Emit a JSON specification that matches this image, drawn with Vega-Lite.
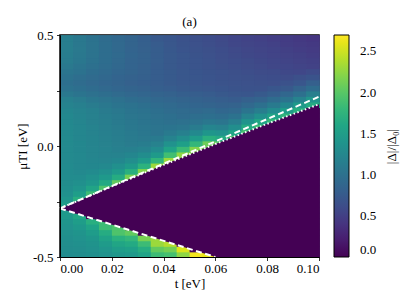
{
"$schema":"https://vega.github.io/schema/vega-lite/v6.json",
"width":259,"height":222,
"autosize":"none",
"padding":{"left":60,"top":35,"right":96,"bottom":50},
"background":"white",
"title":{"text":"(a)","fontSize":13,"fontWeight":"normal","font":"Liberation Serif","color":"black","offset":-13,"baseline":"bottom","frame":"group"},
"datasets":{
"grid":[
{"t":0.0025,"m":-0.4875,"v":1.3},{"t":0.0025,"m":-0.4625,"v":1.31},{"t":0.0025,"m":-0.4375,"v":1.32},{"t":0.0025,"m":-0.4125,"v":1.33},{"t":0.0025,"m":-0.3875,"v":1.35},{"t":0.0025,"m":-0.3625,"v":1.37},{"t":0.0025,"m":-0.3375,"v":1.4},{"t":0.0025,"m":-0.3125,"v":1.45},{"t":0.0025,"m":-0.2875,"v":1.45},{"t":0.0025,"m":-0.2625,"v":1.5},{"t":0.0025,"m":-0.2375,"v":1.41},{"t":0.0025,"m":-0.2125,"v":1.35},{"t":0.0025,"m":-0.1875,"v":1.33},{"t":0.0025,"m":-0.1625,"v":1.31},{"t":0.0025,"m":-0.1375,"v":1.3},{"t":0.0025,"m":-0.1125,"v":1.29},{"t":0.0025,"m":-0.0875,"v":1.29},{"t":0.0025,"m":-0.0625,"v":1.28},{"t":0.0025,"m":-0.0375,"v":1.28},{"t":0.0025,"m":-0.0125,"v":1.28},{"t":0.0025,"m":0.0125,"v":1.28},{"t":0.0025,"m":0.0375,"v":1.28},{"t":0.0025,"m":0.0625,"v":1.27},{"t":0.0025,"m":0.0875,"v":1.27},{"t":0.0025,"m":0.1125,"v":1.26},{"t":0.0025,"m":0.1375,"v":1.26},{"t":0.0025,"m":0.1625,"v":1.24},{"t":0.0025,"m":0.1875,"v":1.2},{"t":0.0025,"m":0.2125,"v":1.16},{"t":0.0025,"m":0.2375,"v":1.08},{"t":0.0025,"m":0.2625,"v":1.01},{"t":0.0025,"m":0.2875,"v":0.98},{"t":0.0025,"m":0.3125,"v":1.01},{"t":0.0025,"m":0.3375,"v":1.05},{"t":0.0025,"m":0.3625,"v":1.09},{"t":0.0025,"m":0.3875,"v":1.12},{"t":0.0025,"m":0.4125,"v":1.13},{"t":0.0025,"m":0.4375,"v":1.14},{"t":0.0025,"m":0.4625,"v":1.14},{"t":0.0025,"m":0.4875,"v":1.14},
{"t":0.0075,"m":-0.4875,"v":1.31},{"t":0.0075,"m":-0.4625,"v":1.32},{"t":0.0075,"m":-0.4375,"v":1.34},{"t":0.0075,"m":-0.4125,"v":1.36},{"t":0.0075,"m":-0.3875,"v":1.39},{"t":0.0075,"m":-0.3625,"v":1.44},{"t":0.0075,"m":-0.3375,"v":1.5},{"t":0.0075,"m":-0.3125,"v":1.6},{"t":0.0075,"m":-0.2875,"v":0.08},{"t":0.0075,"m":-0.2625,"v":0.08},{"t":0.0075,"m":-0.2375,"v":1.7},{"t":0.0075,"m":-0.2125,"v":1.51},{"t":0.0075,"m":-0.1875,"v":1.4},{"t":0.0075,"m":-0.1625,"v":1.34},{"t":0.0075,"m":-0.1375,"v":1.3},{"t":0.0075,"m":-0.1125,"v":1.27},{"t":0.0075,"m":-0.0875,"v":1.26},{"t":0.0075,"m":-0.0625,"v":1.26},{"t":0.0075,"m":-0.0375,"v":1.26},{"t":0.0075,"m":-0.0125,"v":1.25},{"t":0.0075,"m":0.0125,"v":1.25},{"t":0.0075,"m":0.0375,"v":1.24},{"t":0.0075,"m":0.0625,"v":1.23},{"t":0.0075,"m":0.0875,"v":1.23},{"t":0.0075,"m":0.1125,"v":1.22},{"t":0.0075,"m":0.1375,"v":1.21},{"t":0.0075,"m":0.1625,"v":1.2},{"t":0.0075,"m":0.1875,"v":1.16},{"t":0.0075,"m":0.2125,"v":1.12},{"t":0.0075,"m":0.2375,"v":1.04},{"t":0.0075,"m":0.2625,"v":0.98},{"t":0.0075,"m":0.2875,"v":0.95},{"t":0.0075,"m":0.3125,"v":0.97},{"t":0.0075,"m":0.3375,"v":1.01},{"t":0.0075,"m":0.3625,"v":1.04},{"t":0.0075,"m":0.3875,"v":1.07},{"t":0.0075,"m":0.4125,"v":1.08},{"t":0.0075,"m":0.4375,"v":1.09},{"t":0.0075,"m":0.4625,"v":1.08},{"t":0.0075,"m":0.4875,"v":1.08},
{"t":0.0125,"m":-0.4875,"v":1.33},{"t":0.0125,"m":-0.4625,"v":1.35},{"t":0.0125,"m":-0.4375,"v":1.38},{"t":0.0125,"m":-0.4125,"v":1.42},{"t":0.0125,"m":-0.3875,"v":1.48},{"t":0.0125,"m":-0.3625,"v":1.56},{"t":0.0125,"m":-0.3375,"v":1.7},{"t":0.0125,"m":-0.3125,"v":0.05},{"t":0.0125,"m":-0.2875,"v":0.05},{"t":0.0125,"m":-0.2625,"v":0.05},{"t":0.0125,"m":-0.2375,"v":0.05},{"t":0.0125,"m":-0.2125,"v":1.85},{"t":0.0125,"m":-0.1875,"v":1.58},{"t":0.0125,"m":-0.1625,"v":1.43},{"t":0.0125,"m":-0.1375,"v":1.35},{"t":0.0125,"m":-0.1125,"v":1.29},{"t":0.0125,"m":-0.0875,"v":1.25},{"t":0.0125,"m":-0.0625,"v":1.23},{"t":0.0125,"m":-0.0375,"v":1.22},{"t":0.0125,"m":-0.0125,"v":1.22},{"t":0.0125,"m":0.0125,"v":1.21},{"t":0.0125,"m":0.0375,"v":1.21},{"t":0.0125,"m":0.0625,"v":1.19},{"t":0.0125,"m":0.0875,"v":1.19},{"t":0.0125,"m":0.1125,"v":1.17},{"t":0.0125,"m":0.1375,"v":1.17},{"t":0.0125,"m":0.1625,"v":1.16},{"t":0.0125,"m":0.1875,"v":1.12},{"t":0.0125,"m":0.2125,"v":1.07},{"t":0.0125,"m":0.2375,"v":1.0},{"t":0.0125,"m":0.2625,"v":0.94},{"t":0.0125,"m":0.2875,"v":0.91},{"t":0.0125,"m":0.3125,"v":0.93},{"t":0.0125,"m":0.3375,"v":0.96},{"t":0.0125,"m":0.3625,"v":0.99},{"t":0.0125,"m":0.3875,"v":1.01},{"t":0.0125,"m":0.4125,"v":1.02},{"t":0.0125,"m":0.4375,"v":1.02},{"t":0.0125,"m":0.4625,"v":1.02},{"t":0.0125,"m":0.4875,"v":1.01},
{"t":0.0175,"m":-0.4875,"v":1.37},{"t":0.0175,"m":-0.4625,"v":1.41},{"t":0.0175,"m":-0.4375,"v":1.47},{"t":0.0175,"m":-0.4125,"v":1.55},{"t":0.0175,"m":-0.3875,"v":1.66},{"t":0.0175,"m":-0.3625,"v":1.85},{"t":0.0175,"m":-0.3375,"v":1.85},{"t":0.0175,"m":-0.3125,"v":0.03},{"t":0.0175,"m":-0.2875,"v":0.03},{"t":0.0175,"m":-0.2625,"v":0.03},{"t":0.0175,"m":-0.2375,"v":0.03},{"t":0.0175,"m":-0.2125,"v":0.03},{"t":0.0175,"m":-0.1875,"v":1.95},{"t":0.0175,"m":-0.1625,"v":1.63},{"t":0.0175,"m":-0.1375,"v":1.45},{"t":0.0175,"m":-0.1125,"v":1.34},{"t":0.0175,"m":-0.0875,"v":1.27},{"t":0.0175,"m":-0.0625,"v":1.22},{"t":0.0175,"m":-0.0375,"v":1.2},{"t":0.0175,"m":-0.0125,"v":1.19},{"t":0.0175,"m":0.0125,"v":1.18},{"t":0.0175,"m":0.0375,"v":1.17},{"t":0.0175,"m":0.0625,"v":1.16},{"t":0.0175,"m":0.0875,"v":1.15},{"t":0.0175,"m":0.1125,"v":1.14},{"t":0.0175,"m":0.1375,"v":1.13},{"t":0.0175,"m":0.1625,"v":1.11},{"t":0.0175,"m":0.1875,"v":1.08},{"t":0.0175,"m":0.2125,"v":1.03},{"t":0.0175,"m":0.2375,"v":0.97},{"t":0.0175,"m":0.2625,"v":0.91},{"t":0.0175,"m":0.2875,"v":0.88},{"t":0.0175,"m":0.3125,"v":0.9},{"t":0.0175,"m":0.3375,"v":0.92},{"t":0.0175,"m":0.3625,"v":0.94},{"t":0.0175,"m":0.3875,"v":0.96},{"t":0.0175,"m":0.4125,"v":0.96},{"t":0.0175,"m":0.4375,"v":0.96},{"t":0.0175,"m":0.4625,"v":0.96},{"t":0.0175,"m":0.4875,"v":0.95},
{"t":0.0225,"m":-0.4875,"v":1.43},{"t":0.0225,"m":-0.4625,"v":1.5},{"t":0.0225,"m":-0.4375,"v":1.59},{"t":0.0225,"m":-0.4125,"v":1.72},{"t":0.0225,"m":-0.3875,"v":1.95},{"t":0.0225,"m":-0.3625,"v":1.95},{"t":0.0225,"m":-0.3375,"v":0.03},{"t":0.0225,"m":-0.3125,"v":0.03},{"t":0.0225,"m":-0.2875,"v":0.03},{"t":0.0225,"m":-0.2625,"v":0.03},{"t":0.0225,"m":-0.2375,"v":0.03},{"t":0.0225,"m":-0.2125,"v":0.03},{"t":0.0225,"m":-0.1875,"v":0.03},{"t":0.0225,"m":-0.1625,"v":2.05},{"t":0.0225,"m":-0.1375,"v":1.67},{"t":0.0225,"m":-0.1125,"v":1.46},{"t":0.0225,"m":-0.0875,"v":1.34},{"t":0.0225,"m":-0.0625,"v":1.25},{"t":0.0225,"m":-0.0375,"v":1.2},{"t":0.0225,"m":-0.0125,"v":1.16},{"t":0.0225,"m":0.0125,"v":1.15},{"t":0.0225,"m":0.0375,"v":1.14},{"t":0.0225,"m":0.0625,"v":1.13},{"t":0.0225,"m":0.0875,"v":1.12},{"t":0.0225,"m":0.1125,"v":1.1},{"t":0.0225,"m":0.1375,"v":1.1},{"t":0.0225,"m":0.1625,"v":1.08},{"t":0.0225,"m":0.1875,"v":1.04},{"t":0.0225,"m":0.2125,"v":1.0},{"t":0.0225,"m":0.2375,"v":0.93},{"t":0.0225,"m":0.2625,"v":0.88},{"t":0.0225,"m":0.2875,"v":0.85},{"t":0.0225,"m":0.3125,"v":0.86},{"t":0.0225,"m":0.3375,"v":0.88},{"t":0.0225,"m":0.3625,"v":0.9},{"t":0.0225,"m":0.3875,"v":0.91},{"t":0.0225,"m":0.4125,"v":0.92},{"t":0.0225,"m":0.4375,"v":0.91},{"t":0.0225,"m":0.4625,"v":0.91},{"t":0.0225,"m":0.4875,"v":0.9},
{"t":0.0275,"m":-0.4875,"v":1.45},{"t":0.0275,"m":-0.4625,"v":1.53},{"t":0.0275,"m":-0.4375,"v":1.64},{"t":0.0275,"m":-0.4125,"v":1.79},{"t":0.0275,"m":-0.3875,"v":2.05},{"t":0.0275,"m":-0.3625,"v":0.03},{"t":0.0275,"m":-0.3375,"v":0.03},{"t":0.0275,"m":-0.3125,"v":0.03},{"t":0.0275,"m":-0.2875,"v":0.03},{"t":0.0275,"m":-0.2625,"v":0.03},{"t":0.0275,"m":-0.2375,"v":0.03},{"t":0.0275,"m":-0.2125,"v":0.03},{"t":0.0275,"m":-0.1875,"v":0.03},{"t":0.0275,"m":-0.1625,"v":2.15},{"t":0.0275,"m":-0.1375,"v":2.15},{"t":0.0275,"m":-0.1125,"v":1.71},{"t":0.0275,"m":-0.0875,"v":1.46},{"t":0.0275,"m":-0.0625,"v":1.32},{"t":0.0275,"m":-0.0375,"v":1.23},{"t":0.0275,"m":-0.0125,"v":1.16},{"t":0.0275,"m":0.0125,"v":1.12},{"t":0.0275,"m":0.0375,"v":1.11},{"t":0.0275,"m":0.0625,"v":1.1},{"t":0.0275,"m":0.0875,"v":1.08},{"t":0.0275,"m":0.1125,"v":1.07},{"t":0.0275,"m":0.1375,"v":1.06},{"t":0.0275,"m":0.1625,"v":1.04},{"t":0.0275,"m":0.1875,"v":1.01},{"t":0.0275,"m":0.2125,"v":0.96},{"t":0.0275,"m":0.2375,"v":0.9},{"t":0.0275,"m":0.2625,"v":0.85},{"t":0.0275,"m":0.2875,"v":0.82},{"t":0.0275,"m":0.3125,"v":0.83},{"t":0.0275,"m":0.3375,"v":0.85},{"t":0.0275,"m":0.3625,"v":0.86},{"t":0.0275,"m":0.3875,"v":0.86},{"t":0.0275,"m":0.4125,"v":0.87},{"t":0.0275,"m":0.4375,"v":0.86},{"t":0.0275,"m":0.4625,"v":0.85},{"t":0.0275,"m":0.4875,"v":0.85},
{"t":0.0325,"m":-0.4875,"v":1.56},{"t":0.0325,"m":-0.4625,"v":1.68},{"t":0.0325,"m":-0.4375,"v":1.85},{"t":0.0325,"m":-0.4125,"v":2.15},{"t":0.0325,"m":-0.3875,"v":0.03},{"t":0.0325,"m":-0.3625,"v":0.03},{"t":0.0325,"m":-0.3375,"v":0.03},{"t":0.0325,"m":-0.3125,"v":0.03},{"t":0.0325,"m":-0.2875,"v":0.03},{"t":0.0325,"m":-0.2625,"v":0.03},{"t":0.0325,"m":-0.2375,"v":0.03},{"t":0.0325,"m":-0.2125,"v":0.03},{"t":0.0325,"m":-0.1875,"v":0.03},{"t":0.0325,"m":-0.1625,"v":0.03},{"t":0.0325,"m":-0.1375,"v":2.2},{"t":0.0325,"m":-0.1125,"v":2.2},{"t":0.0325,"m":-0.0875,"v":1.73},{"t":0.0325,"m":-0.0625,"v":1.46},{"t":0.0325,"m":-0.0375,"v":1.31},{"t":0.0325,"m":-0.0125,"v":1.2},{"t":0.0325,"m":0.0125,"v":1.13},{"t":0.0325,"m":0.0375,"v":1.09},{"t":0.0325,"m":0.0625,"v":1.07},{"t":0.0325,"m":0.0875,"v":1.06},{"t":0.0325,"m":0.1125,"v":1.04},{"t":0.0325,"m":0.1375,"v":1.03},{"t":0.0325,"m":0.1625,"v":1.01},{"t":0.0325,"m":0.1875,"v":0.98},{"t":0.0325,"m":0.2125,"v":0.93},{"t":0.0325,"m":0.2375,"v":0.88},{"t":0.0325,"m":0.2625,"v":0.83},{"t":0.0325,"m":0.2875,"v":0.8},{"t":0.0325,"m":0.3125,"v":0.81},{"t":0.0325,"m":0.3375,"v":0.82},{"t":0.0325,"m":0.3625,"v":0.82},{"t":0.0325,"m":0.3875,"v":0.83},{"t":0.0325,"m":0.4125,"v":0.83},{"t":0.0325,"m":0.4375,"v":0.82},{"t":0.0325,"m":0.4625,"v":0.81},{"t":0.0325,"m":0.4875,"v":0.8},
{"t":0.0375,"m":-0.4875,"v":1.85},{"t":0.0375,"m":-0.4625,"v":2.05},{"t":0.0375,"m":-0.4375,"v":2.3},{"t":0.0375,"m":-0.4125,"v":2.3},{"t":0.0375,"m":-0.3875,"v":0.03},{"t":0.0375,"m":-0.3625,"v":0.03},{"t":0.0375,"m":-0.3375,"v":0.03},{"t":0.0375,"m":-0.3125,"v":0.03},{"t":0.0375,"m":-0.2875,"v":0.03},{"t":0.0375,"m":-0.2625,"v":0.03},{"t":0.0375,"m":-0.2375,"v":0.03},{"t":0.0375,"m":-0.2125,"v":0.03},{"t":0.0375,"m":-0.1875,"v":0.03},{"t":0.0375,"m":-0.1625,"v":0.03},{"t":0.0375,"m":-0.1375,"v":0.03},{"t":0.0375,"m":-0.1125,"v":2.3},{"t":0.0375,"m":-0.0875,"v":2.3},{"t":0.0375,"m":-0.0625,"v":1.77},{"t":0.0375,"m":-0.0375,"v":1.46},{"t":0.0375,"m":-0.0125,"v":1.3},{"t":0.0375,"m":0.0125,"v":1.18},{"t":0.0375,"m":0.0375,"v":1.1},{"t":0.0375,"m":0.0625,"v":1.04},{"t":0.0375,"m":0.0875,"v":1.03},{"t":0.0375,"m":0.1125,"v":1.01},{"t":0.0375,"m":0.1375,"v":1.0},{"t":0.0375,"m":0.1625,"v":0.98},{"t":0.0375,"m":0.1875,"v":0.94},{"t":0.0375,"m":0.2125,"v":0.9},{"t":0.0375,"m":0.2375,"v":0.85},{"t":0.0375,"m":0.2625,"v":0.8},{"t":0.0375,"m":0.2875,"v":0.78},{"t":0.0375,"m":0.3125,"v":0.78},{"t":0.0375,"m":0.3375,"v":0.78},{"t":0.0375,"m":0.3625,"v":0.78},{"t":0.0375,"m":0.3875,"v":0.79},{"t":0.0375,"m":0.4125,"v":0.78},{"t":0.0375,"m":0.4375,"v":0.78},{"t":0.0375,"m":0.4625,"v":0.77},{"t":0.0375,"m":0.4875,"v":0.75},
{"t":0.0425,"m":-0.4875,"v":1.9},{"t":0.0425,"m":-0.4625,"v":2.13},{"t":0.0425,"m":-0.4375,"v":2.4},{"t":0.0425,"m":-0.4125,"v":0.03},{"t":0.0425,"m":-0.3875,"v":0.03},{"t":0.0425,"m":-0.3625,"v":0.03},{"t":0.0425,"m":-0.3375,"v":0.03},{"t":0.0425,"m":-0.3125,"v":0.03},{"t":0.0425,"m":-0.2875,"v":0.03},{"t":0.0425,"m":-0.2625,"v":0.03},{"t":0.0425,"m":-0.2375,"v":0.03},{"t":0.0425,"m":-0.2125,"v":0.03},{"t":0.0425,"m":-0.1875,"v":0.03},{"t":0.0425,"m":-0.1625,"v":0.03},{"t":0.0425,"m":-0.1375,"v":0.03},{"t":0.0425,"m":-0.1125,"v":0.03},{"t":0.0425,"m":-0.0875,"v":2.3},{"t":0.0425,"m":-0.0625,"v":2.3},{"t":0.0425,"m":-0.0375,"v":1.88},{"t":0.0425,"m":-0.0125,"v":1.56},{"t":0.0425,"m":0.0125,"v":1.36},{"t":0.0425,"m":0.0375,"v":1.2},{"t":0.0425,"m":0.0625,"v":1.1},{"t":0.0425,"m":0.0875,"v":1.04},{"t":0.0425,"m":0.1125,"v":0.99},{"t":0.0425,"m":0.1375,"v":0.98},{"t":0.0425,"m":0.1625,"v":0.95},{"t":0.0425,"m":0.1875,"v":0.92},{"t":0.0425,"m":0.2125,"v":0.88},{"t":0.0425,"m":0.2375,"v":0.83},{"t":0.0425,"m":0.2625,"v":0.78},{"t":0.0425,"m":0.2875,"v":0.76},{"t":0.0425,"m":0.3125,"v":0.76},{"t":0.0425,"m":0.3375,"v":0.76},{"t":0.0425,"m":0.3625,"v":0.75},{"t":0.0425,"m":0.3875,"v":0.75},{"t":0.0425,"m":0.4125,"v":0.75},{"t":0.0425,"m":0.4375,"v":0.74},{"t":0.0425,"m":0.4625,"v":0.73},{"t":0.0425,"m":0.4875,"v":0.72},
{"t":0.0475,"m":-0.4875,"v":2.24},{"t":0.0475,"m":-0.4625,"v":2.55},{"t":0.0475,"m":-0.4375,"v":0.03},{"t":0.0475,"m":-0.4125,"v":0.03},{"t":0.0475,"m":-0.3875,"v":0.03},{"t":0.0475,"m":-0.3625,"v":0.03},{"t":0.0475,"m":-0.3375,"v":0.03},{"t":0.0475,"m":-0.3125,"v":0.03},{"t":0.0475,"m":-0.2875,"v":0.03},{"t":0.0475,"m":-0.2625,"v":0.03},{"t":0.0475,"m":-0.2375,"v":0.03},{"t":0.0475,"m":-0.2125,"v":0.03},{"t":0.0475,"m":-0.1875,"v":0.03},{"t":0.0475,"m":-0.1625,"v":0.03},{"t":0.0475,"m":-0.1375,"v":0.03},{"t":0.0475,"m":-0.1125,"v":0.03},{"t":0.0475,"m":-0.0875,"v":0.03},{"t":0.0475,"m":-0.0625,"v":2.25},{"t":0.0475,"m":-0.0375,"v":2.25},{"t":0.0475,"m":-0.0125,"v":1.83},{"t":0.0475,"m":0.0125,"v":1.52},{"t":0.0475,"m":0.0375,"v":1.32},{"t":0.0475,"m":0.0625,"v":1.16},{"t":0.0475,"m":0.0875,"v":1.06},{"t":0.0475,"m":0.1125,"v":1.0},{"t":0.0475,"m":0.1375,"v":0.95},{"t":0.0475,"m":0.1625,"v":0.93},{"t":0.0475,"m":0.1875,"v":0.89},{"t":0.0475,"m":0.2125,"v":0.85},{"t":0.0475,"m":0.2375,"v":0.8},{"t":0.0475,"m":0.2625,"v":0.76},{"t":0.0475,"m":0.2875,"v":0.74},{"t":0.0475,"m":0.3125,"v":0.73},{"t":0.0475,"m":0.3375,"v":0.73},{"t":0.0475,"m":0.3625,"v":0.72},{"t":0.0475,"m":0.3875,"v":0.72},{"t":0.0475,"m":0.4125,"v":0.72},{"t":0.0475,"m":0.4375,"v":0.7},{"t":0.0475,"m":0.4625,"v":0.69},{"t":0.0475,"m":0.4875,"v":0.68},
{"t":0.0525,"m":-0.4875,"v":2.65},{"t":0.0525,"m":-0.4625,"v":0.03},{"t":0.0525,"m":-0.4375,"v":0.03},{"t":0.0525,"m":-0.4125,"v":0.03},{"t":0.0525,"m":-0.3875,"v":0.03},{"t":0.0525,"m":-0.3625,"v":0.03},{"t":0.0525,"m":-0.3375,"v":0.03},{"t":0.0525,"m":-0.3125,"v":0.03},{"t":0.0525,"m":-0.2875,"v":0.03},{"t":0.0525,"m":-0.2625,"v":0.03},{"t":0.0525,"m":-0.2375,"v":0.03},{"t":0.0525,"m":-0.2125,"v":0.03},{"t":0.0525,"m":-0.1875,"v":0.03},{"t":0.0525,"m":-0.1625,"v":0.03},{"t":0.0525,"m":-0.1375,"v":0.03},{"t":0.0525,"m":-0.1125,"v":0.03},{"t":0.0525,"m":-0.0875,"v":0.03},{"t":0.0525,"m":-0.0625,"v":0.03},{"t":0.0525,"m":-0.0375,"v":2.2},{"t":0.0525,"m":-0.0125,"v":2.2},{"t":0.0525,"m":0.0125,"v":1.79},{"t":0.0525,"m":0.0375,"v":1.48},{"t":0.0525,"m":0.0625,"v":1.27},{"t":0.0525,"m":0.0875,"v":1.12},{"t":0.0525,"m":0.1125,"v":1.02},{"t":0.0525,"m":0.1375,"v":0.97},{"t":0.0525,"m":0.1625,"v":0.91},{"t":0.0525,"m":0.1875,"v":0.87},{"t":0.0525,"m":0.2125,"v":0.83},{"t":0.0525,"m":0.2375,"v":0.79},{"t":0.0525,"m":0.2625,"v":0.74},{"t":0.0525,"m":0.2875,"v":0.72},{"t":0.0525,"m":0.3125,"v":0.72},{"t":0.0525,"m":0.3375,"v":0.71},{"t":0.0525,"m":0.3625,"v":0.7},{"t":0.0525,"m":0.3875,"v":0.7},{"t":0.0525,"m":0.4125,"v":0.69},{"t":0.0525,"m":0.4375,"v":0.68},{"t":0.0525,"m":0.4625,"v":0.66},{"t":0.0525,"m":0.4875,"v":0.65},
{"t":0.0575,"m":-0.4875,"v":2.6},{"t":0.0575,"m":-0.4625,"v":0.03},{"t":0.0575,"m":-0.4375,"v":0.03},{"t":0.0575,"m":-0.4125,"v":0.03},{"t":0.0575,"m":-0.3875,"v":0.03},{"t":0.0575,"m":-0.3625,"v":0.03},{"t":0.0575,"m":-0.3375,"v":0.03},{"t":0.0575,"m":-0.3125,"v":0.03},{"t":0.0575,"m":-0.2875,"v":0.03},{"t":0.0575,"m":-0.2625,"v":0.03},{"t":0.0575,"m":-0.2375,"v":0.03},{"t":0.0575,"m":-0.2125,"v":0.03},{"t":0.0575,"m":-0.1875,"v":0.03},{"t":0.0575,"m":-0.1625,"v":0.03},{"t":0.0575,"m":-0.1375,"v":0.03},{"t":0.0575,"m":-0.1125,"v":0.03},{"t":0.0575,"m":-0.0875,"v":0.03},{"t":0.0575,"m":-0.0625,"v":0.03},{"t":0.0575,"m":-0.0375,"v":0.03},{"t":0.0575,"m":-0.0125,"v":2.1},{"t":0.0575,"m":0.0125,"v":2.1},{"t":0.0575,"m":0.0375,"v":1.71},{"t":0.0575,"m":0.0625,"v":1.42},{"t":0.0575,"m":0.0875,"v":1.22},{"t":0.0575,"m":0.1125,"v":1.07},{"t":0.0575,"m":0.1375,"v":0.98},{"t":0.0575,"m":0.1625,"v":0.93},{"t":0.0575,"m":0.1875,"v":0.85},{"t":0.0575,"m":0.2125,"v":0.81},{"t":0.0575,"m":0.2375,"v":0.77},{"t":0.0575,"m":0.2625,"v":0.73},{"t":0.0575,"m":0.2875,"v":0.7},{"t":0.0575,"m":0.3125,"v":0.7},{"t":0.0575,"m":0.3375,"v":0.69},{"t":0.0575,"m":0.3625,"v":0.68},{"t":0.0575,"m":0.3875,"v":0.67},{"t":0.0575,"m":0.4125,"v":0.66},{"t":0.0575,"m":0.4375,"v":0.65},{"t":0.0575,"m":0.4625,"v":0.63},{"t":0.0575,"m":0.4875,"v":0.62},
{"t":0.0625,"m":-0.4875,"v":0.4},{"t":0.0625,"m":-0.4625,"v":0.03},{"t":0.0625,"m":-0.4375,"v":0.03},{"t":0.0625,"m":-0.4125,"v":0.03},{"t":0.0625,"m":-0.3875,"v":0.03},{"t":0.0625,"m":-0.3625,"v":0.03},{"t":0.0625,"m":-0.3375,"v":0.03},{"t":0.0625,"m":-0.3125,"v":0.03},{"t":0.0625,"m":-0.2875,"v":0.03},{"t":0.0625,"m":-0.2625,"v":0.03},{"t":0.0625,"m":-0.2375,"v":0.03},{"t":0.0625,"m":-0.2125,"v":0.03},{"t":0.0625,"m":-0.1875,"v":0.03},{"t":0.0625,"m":-0.1625,"v":0.03},{"t":0.0625,"m":-0.1375,"v":0.03},{"t":0.0625,"m":-0.1125,"v":0.03},{"t":0.0625,"m":-0.0875,"v":0.03},{"t":0.0625,"m":-0.0625,"v":0.03},{"t":0.0625,"m":-0.0375,"v":0.03},{"t":0.0625,"m":-0.0125,"v":0.03},{"t":0.0625,"m":0.0125,"v":2.0},{"t":0.0625,"m":0.0375,"v":1.64},{"t":0.0625,"m":0.0625,"v":1.37},{"t":0.0625,"m":0.0875,"v":1.18},{"t":0.0625,"m":0.1125,"v":1.05},{"t":0.0625,"m":0.1375,"v":0.96},{"t":0.0625,"m":0.1625,"v":0.89},{"t":0.0625,"m":0.1875,"v":0.83},{"t":0.0625,"m":0.2125,"v":0.79},{"t":0.0625,"m":0.2375,"v":0.75},{"t":0.0625,"m":0.2625,"v":0.71},{"t":0.0625,"m":0.2875,"v":0.69},{"t":0.0625,"m":0.3125,"v":0.68},{"t":0.0625,"m":0.3375,"v":0.67},{"t":0.0625,"m":0.3625,"v":0.65},{"t":0.0625,"m":0.3875,"v":0.64},{"t":0.0625,"m":0.4125,"v":0.63},{"t":0.0625,"m":0.4375,"v":0.62},{"t":0.0625,"m":0.4625,"v":0.6},{"t":0.0625,"m":0.4875,"v":0.59},
{"t":0.0675,"m":-0.4875,"v":0.03},{"t":0.0675,"m":-0.4625,"v":0.03},{"t":0.0675,"m":-0.4375,"v":0.03},{"t":0.0675,"m":-0.4125,"v":0.03},{"t":0.0675,"m":-0.3875,"v":0.03},{"t":0.0675,"m":-0.3625,"v":0.03},{"t":0.0675,"m":-0.3375,"v":0.03},{"t":0.0675,"m":-0.3125,"v":0.03},{"t":0.0675,"m":-0.2875,"v":0.03},{"t":0.0675,"m":-0.2625,"v":0.03},{"t":0.0675,"m":-0.2375,"v":0.03},{"t":0.0675,"m":-0.2125,"v":0.03},{"t":0.0675,"m":-0.1875,"v":0.03},{"t":0.0675,"m":-0.1625,"v":0.03},{"t":0.0675,"m":-0.1375,"v":0.03},{"t":0.0675,"m":-0.1125,"v":0.03},{"t":0.0675,"m":-0.0875,"v":0.03},{"t":0.0675,"m":-0.0625,"v":0.03},{"t":0.0675,"m":-0.0375,"v":0.03},{"t":0.0675,"m":-0.0125,"v":0.03},{"t":0.0675,"m":0.0125,"v":0.03},{"t":0.0675,"m":0.0375,"v":1.95},{"t":0.0675,"m":0.0625,"v":1.59},{"t":0.0675,"m":0.0875,"v":1.32},{"t":0.0675,"m":0.1125,"v":1.14},{"t":0.0675,"m":0.1375,"v":1.01},{"t":0.0675,"m":0.1625,"v":0.91},{"t":0.0675,"m":0.1875,"v":0.84},{"t":0.0675,"m":0.2125,"v":0.77},{"t":0.0675,"m":0.2375,"v":0.73},{"t":0.0675,"m":0.2625,"v":0.69},{"t":0.0675,"m":0.2875,"v":0.67},{"t":0.0675,"m":0.3125,"v":0.66},{"t":0.0675,"m":0.3375,"v":0.65},{"t":0.0675,"m":0.3625,"v":0.63},{"t":0.0675,"m":0.3875,"v":0.62},{"t":0.0675,"m":0.4125,"v":0.6},{"t":0.0675,"m":0.4375,"v":0.59},{"t":0.0675,"m":0.4625,"v":0.57},{"t":0.0675,"m":0.4875,"v":0.56},
{"t":0.0725,"m":-0.4875,"v":0.03},{"t":0.0725,"m":-0.4625,"v":0.03},{"t":0.0725,"m":-0.4375,"v":0.03},{"t":0.0725,"m":-0.4125,"v":0.03},{"t":0.0725,"m":-0.3875,"v":0.03},{"t":0.0725,"m":-0.3625,"v":0.03},{"t":0.0725,"m":-0.3375,"v":0.03},{"t":0.0725,"m":-0.3125,"v":0.03},{"t":0.0725,"m":-0.2875,"v":0.03},{"t":0.0725,"m":-0.2625,"v":0.03},{"t":0.0725,"m":-0.2375,"v":0.03},{"t":0.0725,"m":-0.2125,"v":0.03},{"t":0.0725,"m":-0.1875,"v":0.03},{"t":0.0725,"m":-0.1625,"v":0.03},{"t":0.0725,"m":-0.1375,"v":0.03},{"t":0.0725,"m":-0.1125,"v":0.03},{"t":0.0725,"m":-0.0875,"v":0.03},{"t":0.0725,"m":-0.0625,"v":0.03},{"t":0.0725,"m":-0.0375,"v":0.03},{"t":0.0725,"m":-0.0125,"v":0.03},{"t":0.0725,"m":0.0125,"v":0.03},{"t":0.0725,"m":0.0375,"v":0.03},{"t":0.0725,"m":0.0625,"v":1.9},{"t":0.0725,"m":0.0875,"v":1.65},{"t":0.0725,"m":0.1125,"v":1.39},{"t":0.0725,"m":0.1375,"v":1.19},{"t":0.0725,"m":0.1625,"v":1.04},{"t":0.0725,"m":0.1875,"v":0.91},{"t":0.0725,"m":0.2125,"v":0.82},{"t":0.0725,"m":0.2375,"v":0.72},{"t":0.0725,"m":0.2625,"v":0.68},{"t":0.0725,"m":0.2875,"v":0.66},{"t":0.0725,"m":0.3125,"v":0.65},{"t":0.0725,"m":0.3375,"v":0.63},{"t":0.0725,"m":0.3625,"v":0.61},{"t":0.0725,"m":0.3875,"v":0.6},{"t":0.0725,"m":0.4125,"v":0.58},{"t":0.0725,"m":0.4375,"v":0.57},{"t":0.0725,"m":0.4625,"v":0.55},{"t":0.0725,"m":0.4875,"v":0.53},
{"t":0.0775,"m":-0.4875,"v":0.03},{"t":0.0775,"m":-0.4625,"v":0.03},{"t":0.0775,"m":-0.4375,"v":0.03},{"t":0.0775,"m":-0.4125,"v":0.03},{"t":0.0775,"m":-0.3875,"v":0.03},{"t":0.0775,"m":-0.3625,"v":0.03},{"t":0.0775,"m":-0.3375,"v":0.03},{"t":0.0775,"m":-0.3125,"v":0.03},{"t":0.0775,"m":-0.2875,"v":0.03},{"t":0.0775,"m":-0.2625,"v":0.03},{"t":0.0775,"m":-0.2375,"v":0.03},{"t":0.0775,"m":-0.2125,"v":0.03},{"t":0.0775,"m":-0.1875,"v":0.03},{"t":0.0775,"m":-0.1625,"v":0.03},{"t":0.0775,"m":-0.1375,"v":0.03},{"t":0.0775,"m":-0.1125,"v":0.03},{"t":0.0775,"m":-0.0875,"v":0.03},{"t":0.0775,"m":-0.0625,"v":0.03},{"t":0.0775,"m":-0.0375,"v":0.03},{"t":0.0775,"m":-0.0125,"v":0.03},{"t":0.0775,"m":0.0125,"v":0.03},{"t":0.0775,"m":0.0375,"v":0.03},{"t":0.0775,"m":0.0625,"v":0.03},{"t":0.0775,"m":0.0875,"v":1.85},{"t":0.0775,"m":0.1125,"v":1.6},{"t":0.0775,"m":0.1375,"v":1.35},{"t":0.0775,"m":0.1625,"v":1.14},{"t":0.0775,"m":0.1875,"v":0.99},{"t":0.0775,"m":0.2125,"v":0.85},{"t":0.0775,"m":0.2375,"v":0.76},{"t":0.0775,"m":0.2625,"v":0.67},{"t":0.0775,"m":0.2875,"v":0.65},{"t":0.0775,"m":0.3125,"v":0.63},{"t":0.0775,"m":0.3375,"v":0.61},{"t":0.0775,"m":0.3625,"v":0.59},{"t":0.0775,"m":0.3875,"v":0.58},{"t":0.0775,"m":0.4125,"v":0.56},{"t":0.0775,"m":0.4375,"v":0.55},{"t":0.0775,"m":0.4625,"v":0.53},{"t":0.0775,"m":0.4875,"v":0.51},
{"t":0.0825,"m":-0.4875,"v":0.03},{"t":0.0825,"m":-0.4625,"v":0.03},{"t":0.0825,"m":-0.4375,"v":0.03},{"t":0.0825,"m":-0.4125,"v":0.03},{"t":0.0825,"m":-0.3875,"v":0.03},{"t":0.0825,"m":-0.3625,"v":0.03},{"t":0.0825,"m":-0.3375,"v":0.03},{"t":0.0825,"m":-0.3125,"v":0.03},{"t":0.0825,"m":-0.2875,"v":0.03},{"t":0.0825,"m":-0.2625,"v":0.03},{"t":0.0825,"m":-0.2375,"v":0.03},{"t":0.0825,"m":-0.2125,"v":0.03},{"t":0.0825,"m":-0.1875,"v":0.03},{"t":0.0825,"m":-0.1625,"v":0.03},{"t":0.0825,"m":-0.1375,"v":0.03},{"t":0.0825,"m":-0.1125,"v":0.03},{"t":0.0825,"m":-0.0875,"v":0.03},{"t":0.0825,"m":-0.0625,"v":0.03},{"t":0.0825,"m":-0.0375,"v":0.03},{"t":0.0825,"m":-0.0125,"v":0.03},{"t":0.0825,"m":0.0125,"v":0.03},{"t":0.0825,"m":0.0375,"v":0.03},{"t":0.0825,"m":0.0625,"v":0.03},{"t":0.0825,"m":0.0875,"v":0.03},{"t":0.0825,"m":0.1125,"v":1.8},{"t":0.0825,"m":0.1375,"v":1.56},{"t":0.0825,"m":0.1625,"v":1.3},{"t":0.0825,"m":0.1875,"v":1.1},{"t":0.0825,"m":0.2125,"v":0.94},{"t":0.0825,"m":0.2375,"v":0.8},{"t":0.0825,"m":0.2625,"v":0.72},{"t":0.0825,"m":0.2875,"v":0.64},{"t":0.0825,"m":0.3125,"v":0.62},{"t":0.0825,"m":0.3375,"v":0.6},{"t":0.0825,"m":0.3625,"v":0.57},{"t":0.0825,"m":0.3875,"v":0.56},{"t":0.0825,"m":0.4125,"v":0.54},{"t":0.0825,"m":0.4375,"v":0.53},{"t":0.0825,"m":0.4625,"v":0.51},{"t":0.0825,"m":0.4875,"v":0.49},
{"t":0.0875,"m":-0.4875,"v":0.03},{"t":0.0875,"m":-0.4625,"v":0.03},{"t":0.0875,"m":-0.4375,"v":0.03},{"t":0.0875,"m":-0.4125,"v":0.03},{"t":0.0875,"m":-0.3875,"v":0.03},{"t":0.0875,"m":-0.3625,"v":0.03},{"t":0.0875,"m":-0.3375,"v":0.03},{"t":0.0875,"m":-0.3125,"v":0.03},{"t":0.0875,"m":-0.2875,"v":0.03},{"t":0.0875,"m":-0.2625,"v":0.03},{"t":0.0875,"m":-0.2375,"v":0.03},{"t":0.0875,"m":-0.2125,"v":0.03},{"t":0.0875,"m":-0.1875,"v":0.03},{"t":0.0875,"m":-0.1625,"v":0.03},{"t":0.0875,"m":-0.1375,"v":0.03},{"t":0.0875,"m":-0.1125,"v":0.03},{"t":0.0875,"m":-0.0875,"v":0.03},{"t":0.0875,"m":-0.0625,"v":0.03},{"t":0.0875,"m":-0.0375,"v":0.03},{"t":0.0875,"m":-0.0125,"v":0.03},{"t":0.0875,"m":0.0125,"v":0.03},{"t":0.0875,"m":0.0375,"v":0.03},{"t":0.0875,"m":0.0625,"v":0.03},{"t":0.0875,"m":0.0875,"v":0.03},{"t":0.0875,"m":0.1125,"v":0.03},{"t":0.0875,"m":0.1375,"v":1.75},{"t":0.0875,"m":0.1625,"v":1.51},{"t":0.0875,"m":0.1875,"v":1.25},{"t":0.0875,"m":0.2125,"v":1.04},{"t":0.0875,"m":0.2375,"v":0.89},{"t":0.0875,"m":0.2625,"v":0.75},{"t":0.0875,"m":0.2875,"v":0.68},{"t":0.0875,"m":0.3125,"v":0.61},{"t":0.0875,"m":0.3375,"v":0.58},{"t":0.0875,"m":0.3625,"v":0.56},{"t":0.0875,"m":0.3875,"v":0.54},{"t":0.0875,"m":0.4125,"v":0.52},{"t":0.0875,"m":0.4375,"v":0.5},{"t":0.0875,"m":0.4625,"v":0.48},{"t":0.0875,"m":0.4875,"v":0.47},
{"t":0.0925,"m":-0.4875,"v":0.03},{"t":0.0925,"m":-0.4625,"v":0.03},{"t":0.0925,"m":-0.4375,"v":0.03},{"t":0.0925,"m":-0.4125,"v":0.03},{"t":0.0925,"m":-0.3875,"v":0.03},{"t":0.0925,"m":-0.3625,"v":0.03},{"t":0.0925,"m":-0.3375,"v":0.03},{"t":0.0925,"m":-0.3125,"v":0.03},{"t":0.0925,"m":-0.2875,"v":0.03},{"t":0.0925,"m":-0.2625,"v":0.03},{"t":0.0925,"m":-0.2375,"v":0.03},{"t":0.0925,"m":-0.2125,"v":0.03},{"t":0.0925,"m":-0.1875,"v":0.03},{"t":0.0925,"m":-0.1625,"v":0.03},{"t":0.0925,"m":-0.1375,"v":0.03},{"t":0.0925,"m":-0.1125,"v":0.03},{"t":0.0925,"m":-0.0875,"v":0.03},{"t":0.0925,"m":-0.0625,"v":0.03},{"t":0.0925,"m":-0.0375,"v":0.03},{"t":0.0925,"m":-0.0125,"v":0.03},{"t":0.0925,"m":0.0125,"v":0.03},{"t":0.0925,"m":0.0375,"v":0.03},{"t":0.0925,"m":0.0625,"v":0.03},{"t":0.0925,"m":0.0875,"v":0.03},{"t":0.0925,"m":0.1125,"v":0.03},{"t":0.0925,"m":0.1375,"v":0.03},{"t":0.0925,"m":0.1625,"v":1.7},{"t":0.0925,"m":0.1875,"v":1.46},{"t":0.0925,"m":0.2125,"v":1.2},{"t":0.0925,"m":0.2375,"v":0.99},{"t":0.0925,"m":0.2625,"v":0.84},{"t":0.0925,"m":0.2875,"v":0.72},{"t":0.0925,"m":0.3125,"v":0.65},{"t":0.0925,"m":0.3375,"v":0.57},{"t":0.0925,"m":0.3625,"v":0.54},{"t":0.0925,"m":0.3875,"v":0.52},{"t":0.0925,"m":0.4125,"v":0.5},{"t":0.0925,"m":0.4375,"v":0.48},{"t":0.0925,"m":0.4625,"v":0.46},{"t":0.0925,"m":0.4875,"v":0.44},
{"t":0.0975,"m":-0.4875,"v":0.03},{"t":0.0975,"m":-0.4625,"v":0.03},{"t":0.0975,"m":-0.4375,"v":0.03},{"t":0.0975,"m":-0.4125,"v":0.03},{"t":0.0975,"m":-0.3875,"v":0.03},{"t":0.0975,"m":-0.3625,"v":0.03},{"t":0.0975,"m":-0.3375,"v":0.03},{"t":0.0975,"m":-0.3125,"v":0.03},{"t":0.0975,"m":-0.2875,"v":0.03},{"t":0.0975,"m":-0.2625,"v":0.03},{"t":0.0975,"m":-0.2375,"v":0.03},{"t":0.0975,"m":-0.2125,"v":0.03},{"t":0.0975,"m":-0.1875,"v":0.03},{"t":0.0975,"m":-0.1625,"v":0.03},{"t":0.0975,"m":-0.1375,"v":0.03},{"t":0.0975,"m":-0.1125,"v":0.03},{"t":0.0975,"m":-0.0875,"v":0.03},{"t":0.0975,"m":-0.0625,"v":0.03},{"t":0.0975,"m":-0.0375,"v":0.03},{"t":0.0975,"m":-0.0125,"v":0.03},{"t":0.0975,"m":0.0125,"v":0.03},{"t":0.0975,"m":0.0375,"v":0.03},{"t":0.0975,"m":0.0625,"v":0.03},{"t":0.0975,"m":0.0875,"v":0.03},{"t":0.0975,"m":0.1125,"v":0.03},{"t":0.0975,"m":0.1375,"v":0.03},{"t":0.0975,"m":0.1625,"v":0.03},{"t":0.0975,"m":0.1875,"v":1.65},{"t":0.0975,"m":0.2125,"v":1.41},{"t":0.0975,"m":0.2375,"v":1.15},{"t":0.0975,"m":0.2625,"v":0.95},{"t":0.0975,"m":0.2875,"v":0.81},{"t":0.0975,"m":0.3125,"v":0.69},{"t":0.0975,"m":0.3375,"v":0.6},{"t":0.0975,"m":0.3625,"v":0.52},{"t":0.0975,"m":0.3875,"v":0.5},{"t":0.0975,"m":0.4125,"v":0.48},{"t":0.0975,"m":0.4375,"v":0.46},{"t":0.0975,"m":0.4625,"v":0.44},{"t":0.0975,"m":0.4875,"v":0.42}
],
"wedge":[
{"t":0,"lo":-0.281,"hi":-0.281,"v":0},{"t":0.02,"lo":-0.354,"hi":-0.182,"v":0},{"t":0.04,"lo":-0.427,"hi":-0.085,"v":0},{"t":0.06,"lo":-0.5,"hi":0.009,"v":0},{"t":0.08,"lo":-0.5,"hi":0.1,"v":0},{"t":0.1,"lo":-0.5,"hi":0.188,"v":0}
],
"lines":[
{"seg":"dot","style":"dot","t":0,"m":-0.281},{"seg":"dot","style":"dot","t":0.02,"m":-0.182},{"seg":"dot","style":"dot","t":0.04,"m":-0.085},{"seg":"dot","style":"dot","t":0.06,"m":0.009},{"seg":"dot","style":"dot","t":0.08,"m":0.1},{"seg":"dot","style":"dot","t":0.1,"m":0.188},
{"seg":"up","style":"dash","t":0,"m":-0.281},{"seg":"up","style":"dash","t":0.1,"m":0.222},
{"seg":"lo","style":"dash","t":0,"m":-0.281},{"seg":"lo","style":"dash","t":0.06,"m":-0.5}
]
},
"layer":[
{
"data":{"name":"grid"},
"mark":{"type":"rect","binSpacing":0,"xOffset":0.4,"x2Offset":-0.4,"yOffset":-0.4,"y2Offset":0.4},
"encoding":{
"x":{"field":"t","type":"quantitative","bin":{"step":0.005,"extent":[0,0.1]},"scale":{"domain":[0,0.1],"nice":false,"zero":false},"title":"t [eV]","axis":{"values":[0,0.02,0.04,0.06,0.08,0.1],"format":".2f","labelPadding":2,"titlePadding":2,"zindex":1}},
"y":{"field":"m","type":"quantitative","bin":{"step":0.025,"extent":[-0.5,0.5]},"scale":{"domain":[-0.5,0.5],"nice":false,"zero":false},"title":"μTI [eV]","axis":{"values":[-0.5,-0.25,0,0.25,0.5],"labelExpr":"abs(datum.value) > 0.2 && abs(datum.value) < 0.3 ? '' : replace(format(datum.value, '.1f'), '\u2212', '-')","labelPadding":3.5,"titlePadding":3,"zindex":1}},
"color":{"field":"v","type":"quantitative","scale":{"scheme":"viridis","domain":[0,2.7]},"legend":{"type":"gradient","title":null,"orient":"none","legendX":274,"legendY":0,"direction":"vertical","gradientLength":222,"gradientThickness":15,"values":[0,0.5,1,1.5,2,2.5],"format":".1f","labelFont":"Liberation Serif","labelFontSize":13,"labelColor":"black","labelOffset":11,"labelBaseline":"middle","labelOverlap":false,"gradientStrokeColor":"black","gradientStrokeWidth":1,"padding":0}}
}
},
{
"data":{"name":"wedge"},
"mark":{"type":"area","interpolate":"linear"},
"encoding":{
"x":{"field":"t","type":"quantitative","scale":{"domain":[0,0.1],"nice":false,"zero":false},"title":"t [eV]"},
"y":{"field":"lo","type":"quantitative","scale":{"domain":[-0.5,0.5],"nice":false,"zero":false},"axis":null},
"y2":{"field":"hi"},
"color":{"field":"v","type":"quantitative","scale":{"scheme":"viridis","domain":[0,2.7]},"legend":null}
}
},
{
"data":{"name":"lines"},
"mark":{"type":"line","color":"white","strokeWidth":2},
"encoding":{
"x":{"field":"t","type":"quantitative","scale":{"domain":[0,0.1],"nice":false,"zero":false},"title":"t [eV]"},
"y":{"field":"m","type":"quantitative","scale":{"domain":[-0.5,0.5],"nice":false,"zero":false},"axis":{"orient":"right","labels":false,"ticks":false,"domain":false,"grid":false,"title":"|Δ|/|Δ₀|","titleAngle":270,"titleX":72,"titleY":111,"titleAlign":"center","titleBaseline":"middle","titleFontSize":13}},
"detail":{"field":"seg","type":"nominal"},
"strokeDash":{"field":"style","type":"nominal","scale":{"domain":["dot","dash"],"range":[[1.5,2.5],[6,3.5]]},"legend":null}
}
}
],
"resolve":{"axis":{"y":"independent"}},
"config":{
"font":"Liberation Serif",
"view":{"stroke":"black","strokeWidth":1.5},
"axis":{"labelFont":"Liberation Serif","labelFontSize":13,"titleFont":"Liberation Serif","titleFontSize":13,"titleFontWeight":"normal","labelColor":"black","titleColor":"black","tickColor":"black","domainColor":"black","tickSize":3.5,"tickWidth":0.8,"domainWidth":1,"grid":false}
}
}
